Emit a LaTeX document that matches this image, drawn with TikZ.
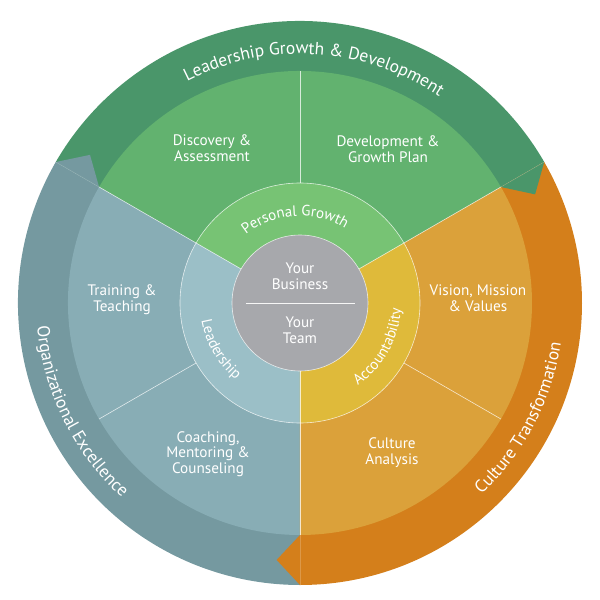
\documentclass[tikz,border=0pt]{standalone}
\usepackage{fontspec}
\setmainfont{PT Sans}
\usetikzlibrary{decorations.text}

\definecolor{gOut}{RGB}{74,150,106}
\definecolor{gMid}{RGB}{98,178,111}
\definecolor{gIn}{RGB}{119,195,116}
\definecolor{bOut}{RGB}{117,153,160}
\definecolor{bMid}{RGB}{136,173,181}
\definecolor{bIn}{RGB}{155,191,199}
\definecolor{oOut}{RGB}{212,127,27}
\definecolor{oMid}{RGB}{219,161,58}
\definecolor{oIn}{RGB}{223,186,58}
\definecolor{core}{RGB}{167,168,172}

\newcommand{\outfont}{\fontsize{17.5}{17.5}\selectfont}
\newcommand{\infont}{\fontsize{15}{15}\selectfont}

\tikzset{
  seam/.style={white, line width=0.6pt, opacity=0.75},
  lbl/.style={text=white, align=center, font=\fontsize{15.2}{15.8}\selectfont},
  ringtext/.style={decorate, decoration={text along path, text align=center,
      text color=white, text={#1}}},
}

\begin{document}
\begin{tikzpicture}[x=1pt,y=1pt] %Rueda de liderazgo
    \useasboundingbox (-300,-297) rectangle (300,303);

    \coordinate (O) at (0,0);

    % anillo exterior
    \fill[gOut] (O) -- (30:282) arc (30:150:282) -- cycle;
    \fill[bOut] (O) -- (150:282) arc (150:270:282) -- cycle;
    \fill[oOut] (O) -- (270:282) arc (270:390:282) -- cycle;

    % puntas de flecha
    \fill[gOut] (30:232) -- (24.8:259) -- (30:282) -- cycle;
    \fill[bOut] (150:232) -- (144.8:257) -- (150:282) -- cycle;
    \fill[oOut] (270:232) -- (264.8:258) -- (270:282) -- cycle;
    \foreach \a in {30,150,270}
        \draw[white, line width=0.5pt, opacity=0.2] (\a:232) -- (\a:282);

    % anillo medio
    \fill[gMid] (O) -- (30:232) arc (30:150:232) -- cycle;
    \fill[bMid] (O) -- (150:232) arc (150:270:232) -- cycle;
    \fill[oMid] (O) -- (270:232) arc (270:390:232) -- cycle;

    % anillo interior
    \fill[gIn] (O) -- (30:120) arc (30:150:120) -- cycle;
    \fill[bIn] (O) -- (150:120) arc (150:270:120) -- cycle;
    \fill[oIn] (O) -- (270:120) arc (270:390:120) -- cycle;

    \fill[core] (O) circle (68);

    % lineas blancas
    \draw[seam] (O) circle (120);
    \draw[seam] (O) circle (68);
    \foreach \a in {30,150,270}
        \draw[seam] (\a:68) -- (\a:232);
    \foreach \a in {90,210,330}
        \draw[seam] (\a:120) -- (\a:232);

    \coordinate (divL) at (-54,0);
    \coordinate (divR) at (55,0);
    \draw[seam, opacity=0.9] (divL) -- (divR);

    % textos curvos
    \path[ringtext={|\outfont|Leadership Growth {\&} Development}]
        (146.5:249) arc (146.5:26.5:249);
    \path[ringtext={|\outfont|Organizational Excellence}]
        (146.4:264) arc (146.4:266.4:264);
    \path[ringtext={|\outfont|Culture Transformation}]
        (-87.7:264) arc (-87.7:32.3:264);
    \path[ringtext={|\infont|Personal Growth}]
        (153.5:87) arc (153.5:33.5:87);
    \path[ringtext={|\infont|Leadership}]
        (150:100) arc (150:270:100);
    \path[ringtext={|\infont|Accountability}]
        (-89:101) arc (-89:31:101);

    % textos rectos
    \node[lbl] (discovery) at (-88,155) {Discovery \&\\Assessment};
    \node[lbl] (growthplan) at (88,154) {Development \&\\Growth Plan};
    \node[lbl] (training) at (-178,3) {Training \&\\Teaching};
    \node[lbl] (vision) at (178,5) {Vision, Mission\\\& Values};
    \node[lbl] (coaching) at (-92,-151) {Coaching,\\Mentoring \&\\Counseling};
    \node[lbl] (analysis) at (92,-150) {Culture\\Analysis};
    \node[lbl] (business) at (0,27) {Your\\Business};
    \node[lbl] (team) at (0,-27) {Your\\Team};
\end{tikzpicture}
\end{document}
